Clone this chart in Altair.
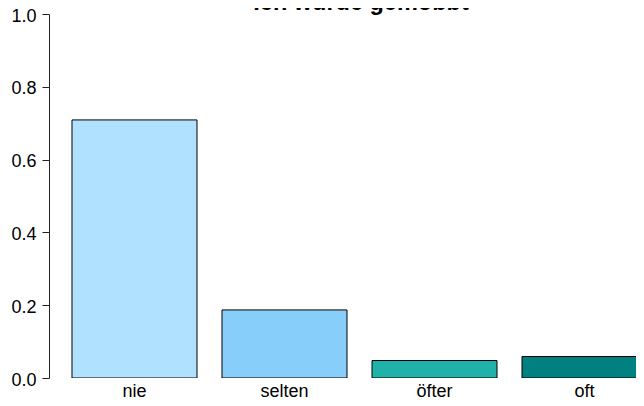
import altair as alt
import pandas as pd

categories = ["nie", "selten", "öfter", "oft"]
values = [0.709, 0.187, 0.048, 0.059]
colors = ["#B0E2FF", "#87CEFA", "#20B2AA", "#008080"]
title_text = "Ich wurde gemobbt"
y_ticks = [0.0, 0.2, 0.4, 0.6, 0.8, 1.0]

df = pd.DataFrame({"kat": categories, "wert": values})
tdf = pd.DataFrame({"t": [title_text]})

FONT = "Liberation Sans"

bars = alt.Chart(df).mark_bar(stroke="black", strokeWidth=1, clip=True).encode(
    x=alt.X(
        "kat:N",
        sort=categories,
        scale=alt.Scale(range=[0, 621], paddingInner=1 / 6, paddingOuter=0.1533),
        axis=alt.Axis(
            title=None, domain=False, ticks=False, tickSize=0,
            labelPadding=18, labelBaseline="alphabetic", labelAngle=0,
            labelFontSize=18, labelFont=FONT, labelColor="black",
        ),
    ),
    y=alt.Y(
        "wert:Q",
        scale=alt.Scale(domain=[0, 1], nice=False, zero=True),
        axis=alt.Axis(
            title=None, values=y_ticks, format=".1f", grid=False,
            domainColor="#222222", tickColor="#222222", tickSize=7,
            labelPadding=6, labelFontSize=18, labelFont=FONT, labelColor="black",
            labelOffset=2,
        ),
    ),
    color=alt.Color("kat:N", scale=alt.Scale(domain=categories, range=colors), legend=None),
)

title = alt.Chart(tdf).mark_text(
    font=FONT, fontSize=23.5, fontWeight="bold", baseline="alphabetic", align="center", color="black"
).encode(
    text="t:N",
    x=alt.value(312),
    y=alt.value(-4),
)

chart = alt.layer(bars, title).properties(
    width=587,
    height=364,
    autosize=alt.AutoSizeParams(type="none"),
    padding={"left": 41, "top": 6, "right": 0, "bottom": 20},
).configure_view(stroke=None)

chart.save("out.html", embed_options={"renderer": "svg", "actions": False})
